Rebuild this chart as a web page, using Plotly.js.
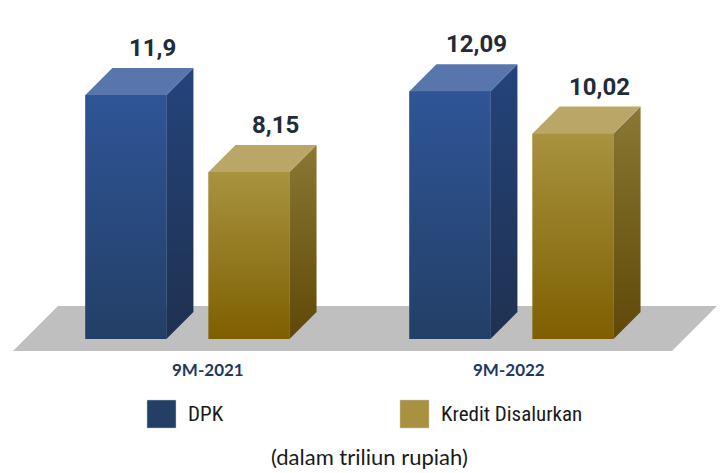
<!DOCTYPE html>
<html>
<head>
<meta charset="utf-8">
<script src="https://cdn.plot.ly/plotly-3.0.1.min.js"></script>
<style>html,body{margin:0;padding:0;background:#fff;}#chart{width:721px;height:473px;}</style>
</head>
<body>
<div id="chart"></div>
<script>
// ---- data ----
const categories = ['9M-2021', '9M-2022'];
const seriesNames = ['DPK', 'Kredit Disalurkan'];
const dpk = [11.9, 12.09];
const kredit = [8.15, 10.02];
const unitNote = '(dalam triliun rupiah)';

// ---- style ----
const styles = [
  { front: '#2a4a80', frontTop: '#2f5597', frontBot: '#233f66', sideTop: '#25447b', sideBot: '#1e3150', top: '#5876ab', legend: '#243f66' },
  { front: '#947a2a', frontTop: '#a8933f', frontBot: '#7e5f00', sideTop: '#8a7834', sideBot: '#5f4808', top: '#baa767', legend: '#a8923f' }
];
const barWidth = 0.25;
const barCenterOffset = [-0.19, 0.19];
const depthX = 0.0833;
const depthY = 1.317;

const seriesValues = [dpk, kredit];
const idx = categories.map((c, i) => i);
const traces = [];

// front faces as bars
seriesValues.forEach((vals, s) => {
  traces.push({
    type: 'bar', name: seriesNames[s], x: idx, y: vals,
    width: barWidth, offset: barCenterOffset[s] - barWidth / 2,
    marker: { color: styles[s].front, line: { width: 0 } },
    hoverinfo: 'skip', showlegend: false
  });
});

// 3D faces
seriesValues.forEach((vals, s) => {
  vals.forEach((v, i) => {
    const x0 = i + barCenterOffset[s] - barWidth / 2;
    const x1 = x0 + barWidth;
    // side
    traces.push({
      type: 'scatter', mode: 'lines', hoverinfo: 'skip', showlegend: false,
      x: [x1, x1 + depthX, x1 + depthX, x1, x1],
      y: [0, depthY, v + depthY, v, 0],
      fill: 'toself', line: { width: 0 },
      fillgradient: { type: 'vertical', colorscale: [[0, styles[s].sideBot], [1, styles[s].sideTop]] }
    });
    // top
    traces.push({
      type: 'scatter', mode: 'lines', hoverinfo: 'skip', showlegend: false,
      x: [x0, x1, x1 + depthX, x0 + depthX, x0],
      y: [v, v, v + depthY, v + depthY, v],
      fill: 'toself', fillcolor: styles[s].top, line: { width: 0 }
    });
    // front gradient overlay
    traces.push({
      type: 'scatter', mode: 'lines', hoverinfo: 'skip', showlegend: false,
      x: [x0, x1, x1, x0, x0],
      y: [0, 0, v, v, 0],
      fill: 'toself', line: { width: 0 },
      fillgradient: { type: 'vertical', colorscale: [[0, styles[s].frontBot], [1, styles[s].frontTop]] }
    });
  });
});

const annotations = [];
seriesValues.forEach((vals, s) => {
  vals.forEach((v, i) => {
    annotations.push({
      x: i + barCenterOffset[s] + depthX / 2 + 0.04, y: v + depthY, xref: 'x', yref: 'y',
      text: String(v).replace('.', ','), showarrow: false, yanchor: 'bottom', yshift: 4,
      font: { family: 'Roboto', size: 24, color: '#222b38', weight: 700 }
    });
  });
});
const catLabelX = [0.288, 0.706];
categories.forEach((c, i) => {
  annotations.push({
    x: catLabelX[i], y: 0.2178, xref: 'paper', yref: 'paper', text: '<b>' + c + '</b>',
    showarrow: false, xanchor: 'center', yanchor: 'middle',
    font: { family: 'Lato', size: 17, color: '#1f3864' }
  });
});
const legendX = [0.2039, 0.5548];
const shapes = [{
  type: 'path', xref: 'x', yref: 'y', layer: 'below',
  path: 'M -0.5386,-0.585 L -0.3997,1.61 L 1.634,1.61 L 1.4954,-0.585 Z',
  fillcolor: '#bfbfbf', line: { width: 0 }
}];
seriesNames.forEach((n, s) => {
  shapes.push({
    type: 'rect', xref: 'paper', yref: 'paper',
    x0: legendX[s], x1: legendX[s] + 0.0402, y0: 0.0951, y1: 0.1543,
    fillcolor: styles[s].legend, line: { width: 0.5, color: '#c8c8c8' }
  });
  annotations.push({
    x: legendX[s] + 0.0541, y: 0.1247, xref: 'paper', yref: 'paper', text: n,
    showarrow: false, xanchor: 'left', yanchor: 'middle',
    font: { family: 'Liberation Sans Narrow, Roboto Condensed, Roboto', size: 21, color: '#1a1a1a' }
  });
});
annotations.push({
  x: 0.5118, y: 0.034, xref: 'paper', yref: 'paper', text: unitNote,
  showarrow: false, xanchor: 'center', yanchor: 'middle',
  font: { family: 'Lato', size: 22, color: '#1a1a1a' }
});

const layout = {
  width: 721, height: 473,
  margin: { l: 0, r: 0, t: 0, b: 0 },
  paper_bgcolor: '#ffffff', plot_bgcolor: '#ffffff',
  showlegend: false, barmode: 'overlay',
  xaxis: { range: [-0.5787, 1.6466], visible: false, fixedrange: true },
  yaxis: { range: [-6.537, 16.537], visible: false, fixedrange: true },
  shapes: shapes, annotations: annotations
};
Plotly.newPlot('chart', traces, layout, { displayModeBar: false, staticPlot: true });
</script>
</body>
</html>
